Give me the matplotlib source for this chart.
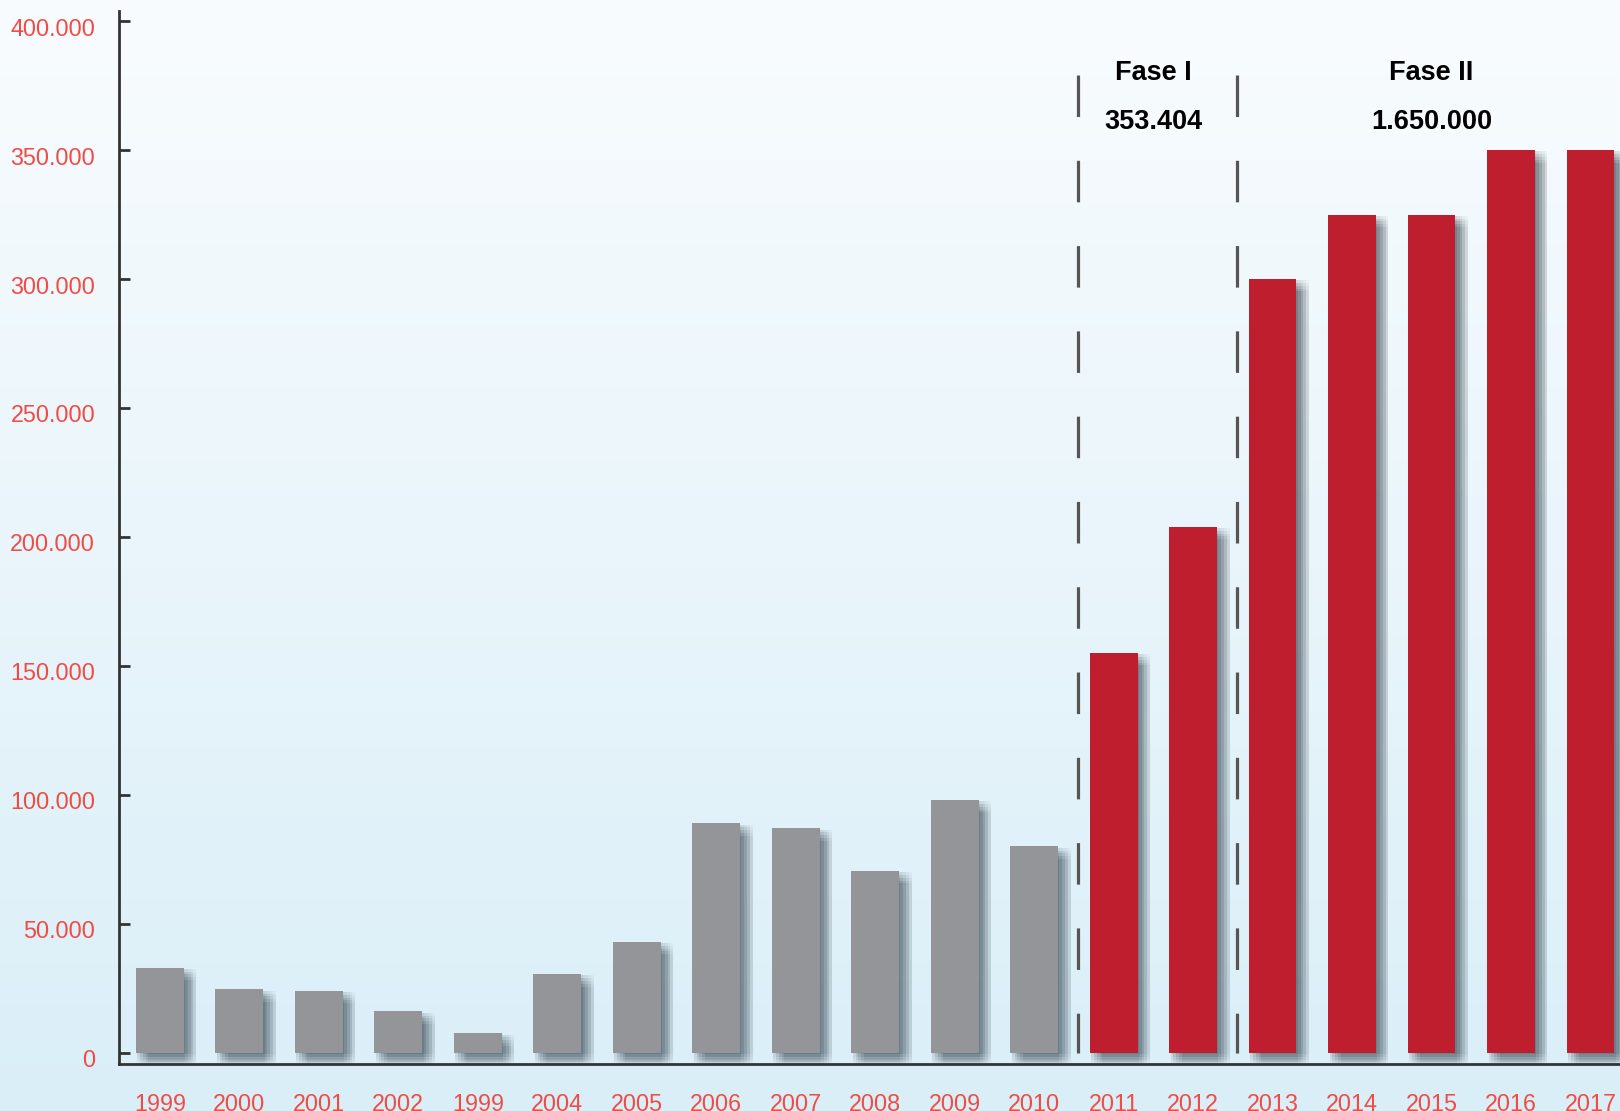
import numpy as np
import matplotlib
matplotlib.use("Agg")
import matplotlib.pyplot as plt
import matplotlib.patheffects as pe
from matplotlib.transforms import ScaledTranslation

plt.rcParams['font.family'] = ['Liberation Sans', 'DejaVu Sans']

# data
years = ['1999', '2000', '2001', '2002', '1999', '2004', '2005', '2006', '2007', '2008',
         '2009', '2010', '2011', '2012', '2013', '2014', '2015', '2016', '2017']
values = [33000, 24500, 24000, 16000, 7500, 30500, 43000, 89000, 87000, 70500,
          98000, 80000, 155000, 204000, 300000, 325000, 325000, 350000, 350000]
phase = ['old'] * 12 + ['I'] * 2 + ['II'] * 5
yticks = [0, 50000, 100000, 150000, 200000, 250000, 300000, 350000, 400000]
ytick_labels = ['0', '50.000', '100.000', '150.000', '200.000', '250.000', '300.000', '350.000', '400.000']
phase_titles = ['Fase I', 'Fase II']
phase_totals = ['353.404', '1.650.000']

GRAY = '#939598'
RED = '#be1e2d'
LABEL_RED = '#f04c46'

fig = plt.figure(figsize=(16.2, 11.11), dpi=100)

# background gradient
bg = fig.add_axes([0, 0, 1, 1], zorder=-10)
grad = np.linspace(0, 1, 256).reshape(-1, 1)
top = np.array([0.975, 0.988, 0.996])
bot = np.array([0.855, 0.935, 0.972])
img = top + (bot - top) * grad[:, :, None]
bg.imshow(img, aspect='auto', extent=[0, 1, 0, 1])
bg.axis('off')

ax = fig.add_axes([0.0733, 0.0423, 0.9267, 0.948])
ax.patch.set_alpha(0)

x = np.arange(len(years))
colors = [GRAY if p == 'old' else RED for p in phase]
bars = ax.bar(x, values, width=0.6, color=colors, zorder=3)

# soft drop shadow, built from stacked offset shadows
shadow = []
for dx in [1, 3, 5, 7, 9]:
    for dy in [-1, -3, -5, -7, -9]:
        shadow.append(pe.SimplePatchShadow(offset=(dx, dy), shadow_rgbFace='#2a3a44', alpha=0.035))
shadow.append(pe.Normal())
for b in bars:
    b.set_path_effects(shadow)

# phase separators
for xs in [11.55, 13.55]:
    ax.plot([xs, xs], [379000, 0], color='#555555', lw=2.3,
            linestyle=(0, (13, 13.7)), zorder=2)

ax.text(12.5, 380000, phase_titles[0], ha='center', va='center', fontsize=19.5, fontweight='bold')
ax.text(12.5, 361000, phase_totals[0], ha='center', va='center', fontsize=19.5, fontweight='bold')
ax.text(16, 380000, phase_titles[1], ha='center', va='center', fontsize=19.5, fontweight='bold')
ax.text(16, 361000, phase_totals[1], ha='center', va='center', fontsize=19.5, fontweight='bold')

ax.set_xlim(-0.517, 18.37)
ax.set_ylim(-4400, 404000)
ax.set_xticks(x)
ax.set_xticklabels(years, color=LABEL_RED, fontsize=16.8)
ax.set_yticks(yticks)
ax.set_yticklabels(ytick_labels, color=LABEL_RED, fontsize=16.8)
ax.tick_params(axis='x', length=0, pad=21)
ax.tick_params(axis='y', direction='in', length=8, width=2, color='#333333', pad=17)

# y labels sit a little below their ticks in the original
off = ScaledTranslation(0, -4 / 72, fig.dpi_scale_trans)
for lab in ax.get_yticklabels():
    lab.set_transform(lab.get_transform() + off)

for s in ['top', 'right']:
    ax.spines[s].set_visible(False)
for s in ['left', 'bottom']:
    ax.spines[s].set_color('#333333')
    ax.spines[s].set_linewidth(2)

fig.savefig('out.png', dpi=100)
